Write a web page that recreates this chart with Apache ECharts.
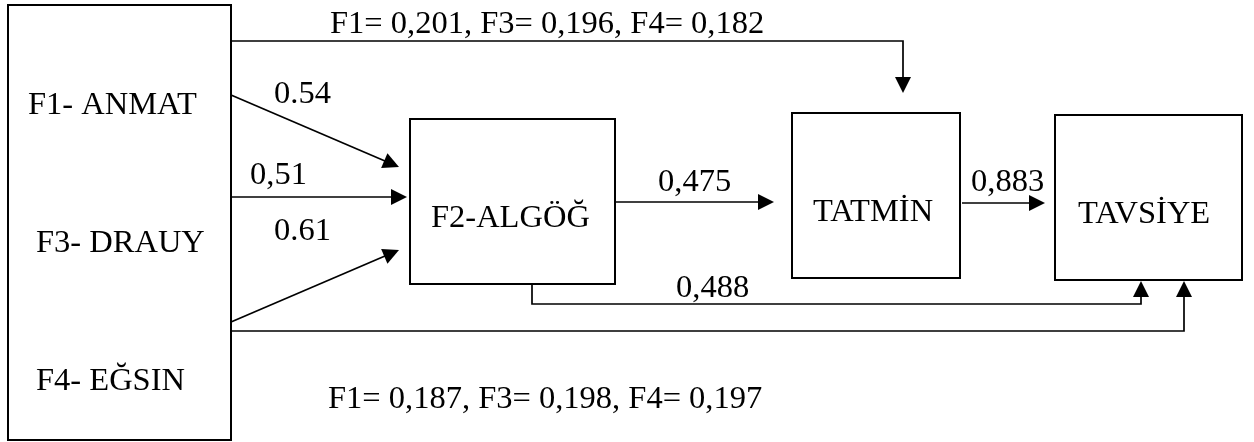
<!DOCTYPE html>
<html><head><meta charset="utf-8">
<script src="https://cdn.jsdelivr.net/npm/echarts@6/dist/echarts.min.js"></script>
<style>html,body{margin:0;padding:0;background:#fff}#c{width:1254px;height:442px}</style>
</head><body><div id="c"></div>
<script>
// ---- data ----
const factorNames = ['F1- ANMAT', 'F3- DRAUY', 'F4- EĞSIN'];
const constructNames = ['F2-ALGÖĞ', 'TATMİN', 'TAVSİYE'];
const pathCoefficients = ['0.54', '0,51', '0.61', '0,475', '0,883', '0,488'];
const effectsOnTatmin = ['F1= 0,201', 'F3= 0,196', 'F4= 0,182'];
const effectsOnTavsiye = ['F1= 0,187', 'F3= 0,198', 'F4= 0,197'];

// ---- layout (diagram units on a 1254 x 442 plane) ----
const boxLayout = [[8, 5, 231, 440], [410, 119, 615, 284], [792, 113, 960, 278], [1055, 115, 1242, 280]];
const factorLabelPos = [[28, 105], [36, 243], [36, 381]];
const constructLabelPos = [[431, 218], [813, 212], [1078, 214]];
const coefLabelPos = [[274, 94], [250, 175], [274, 231], [658, 182], [971, 182], [676, 288]];
const effectLabelPos = [[330, 24], [328, 399]];
const pathLayout = [
  [[231, 95], [399, 167]],
  [[231, 197], [407, 197]],
  [[231, 322], [399, 250]],
  [[615, 202], [774, 202]],
  [[962, 203], [1045, 203]],
  [[532, 284], [532, 304], [1141, 304], [1141, 281]],
  [[231, 41], [903, 41], [903, 93]],
  [[231, 331], [1184, 331], [1184, 281]]
];

const FONT = '32.5px "Liberation Serif", "Times New Roman", serif';

const texts = [];
factorNames.forEach((t, i) => texts.push([t, factorLabelPos[i]]));
constructNames.forEach((t, i) => texts.push([t, constructLabelPos[i]]));
pathCoefficients.forEach((t, i) => texts.push([t, coefLabelPos[i]]));
texts.push([effectsOnTatmin.join(', '), effectLabelPos[0]]);
texts.push([effectsOnTavsiye.join(', '), effectLabelPos[1]]);

const chart = echarts.init(document.getElementById('c'), null, {renderer: 'canvas'});
chart.setOption({
  animation: false,
  backgroundColor: '#fff',
  grid: {left: 0, right: 0, top: 0, bottom: 0},
  xAxis: {type: 'value', min: 0, max: 1254, show: false},
  yAxis: {type: 'value', min: 0, max: 442, inverse: true, show: false},
  series: [
    {
      type: 'custom', coordinateSystem: 'cartesian2d', silent: true,
      data: boxLayout.map((b, i) => [i, 0]),
      renderItem: function (params, api) {
        const b = boxLayout[params.dataIndex];
        const p0 = api.coord([b[0], b[1]]), p1 = api.coord([b[2], b[3]]);
        return {type: 'rect', shape: {x: p0[0], y: p0[1], width: p1[0] - p0[0], height: p1[1] - p0[1]},
          style: {fill: 'none', stroke: '#000', lineWidth: 2}};
      }
    },
    {
      type: 'custom', coordinateSystem: 'cartesian2d', silent: true,
      data: pathLayout.map((p, i) => [i, 0]),
      renderItem: function (params, api) {
        const pts = pathLayout[params.dataIndex].map(p => api.coord(p));
        const n = pts.length, tip = pts[n - 1], prev = pts[n - 2];
        const dx = tip[0] - prev[0], dy = tip[1] - prev[1];
        const len = Math.sqrt(dx * dx + dy * dy), ux = dx / len, uy = dy / len;
        const L = 16, W = 8;
        const bx = tip[0] - ux * L, by = tip[1] - uy * L;
        const linePts = pts.slice(0, n - 1).concat([[bx + ux * 2, by + uy * 2]]);
        return {type: 'group', children: [
          {type: 'polyline', shape: {points: linePts}, style: {fill: null, stroke: '#000', lineWidth: 1.7}},
          {type: 'polygon', shape: {points: [tip, [bx - uy * W, by + ux * W], [bx + uy * W, by - ux * W]]},
            style: {fill: '#000', stroke: null}}
        ]};
      }
    },
    {
      type: 'custom', coordinateSystem: 'cartesian2d', silent: true,
      data: texts.map((t, i) => [i, 0]),
      renderItem: function (params, api) {
        const t = texts[params.dataIndex];
        const p = api.coord(t[1]);
        return {type: 'text', style: {text: t[0], x: p[0], y: p[1], font: FONT, fill: '#000', align: 'left', verticalAlign: 'middle'}};
      }
    }
  ]
});
</script></body></html>
